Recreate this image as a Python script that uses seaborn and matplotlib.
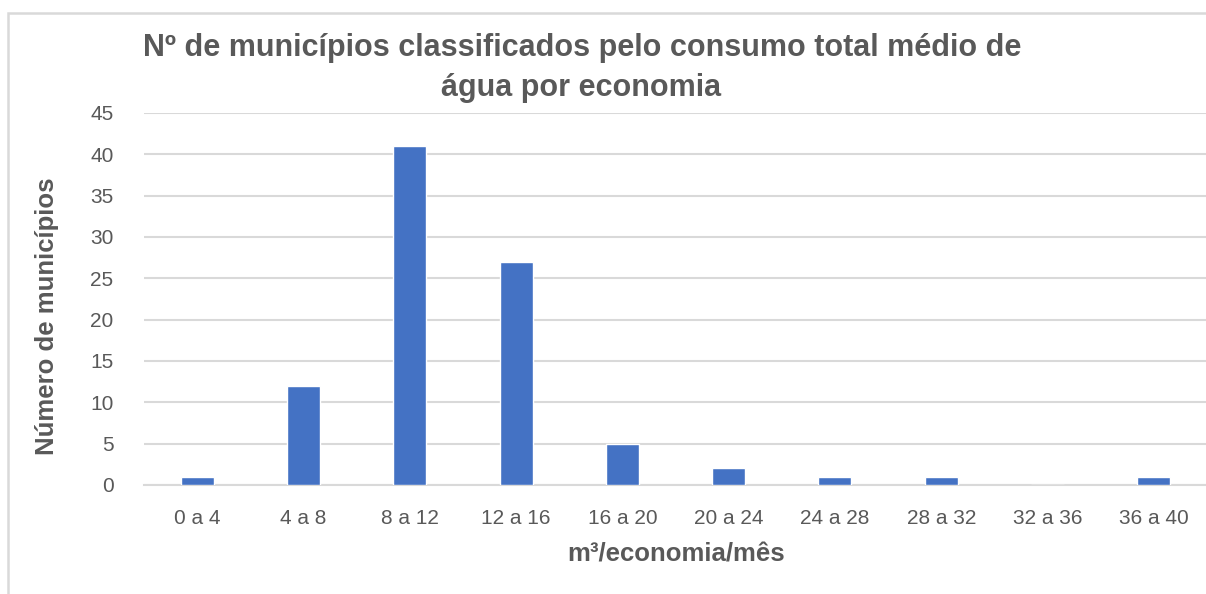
import matplotlib
matplotlib.use("Agg")
import matplotlib.pyplot as plt
from matplotlib.patches import Rectangle
import pandas as pd
import seaborn as sns

# Faixas de consumo e número de municípios
faixas = ["0 a 4", "4 a 8", "8 a 12", "12 a 16", "16 a 20",
          "20 a 24", "24 a 28", "28 a 32", "32 a 36", "36 a 40"]
municipios = [1, 12, 41, 27, 5, 2, 1, 1, 0, 1]
y_ticks = [0, 5, 10, 15, 20, 25, 30, 35, 40, 45]

BAR_COLOR = "#4472C4"
TEXT_COLOR = "#595959"
GRID_COLOR = "#D9D9D9"

sns.set_style("white")
plt.rcParams["font.family"] = ["Liberation Sans", "DejaVu Sans"]

df = pd.DataFrame({"faixa": faixas, "n": municipios})

fig = plt.figure(figsize=(12.06, 5.94), dpi=100)
ax = fig.add_axes([144 / 1206, 109 / 594, 1063 / 1206, 372 / 594])

sns.barplot(data=df, x="faixa", y="n", color=BAR_COLOR, saturation=1,
            width=0.31, ax=ax, zorder=3)

ax.set_ylim(0, 45)
ax.set_yticks(y_ticks)
ax.set_xlim(-0.5, len(faixas) - 0.5)
ax.yaxis.grid(True, color=GRID_COLOR, linewidth=1.5, zorder=0)
ax.set_axisbelow(True)
for side in ["top", "right", "left"]:
    ax.spines[side].set_visible(False)
ax.spines["bottom"].set_color(GRID_COLOR)
ax.spines["bottom"].set_linewidth(1.5)
ax.tick_params(axis="both", length=0, labelsize=15, colors=TEXT_COLOR)
ax.tick_params(axis="x", pad=17)
ax.tick_params(axis="y", pad=22)
ax.set_xlabel("")
ax.set_ylabel("")

# títulos e rótulos
fig.text(582 / 1206, 1 - 48 / 594,
         "Nº de municípios classificados pelo consumo total médio de",
         ha="center", va="center", fontsize=22, fontweight="bold",
         color=TEXT_COLOR)
fig.text(581 / 1206, 1 - 88 / 594, "água por economia",
         ha="center", va="center", fontsize=22, fontweight="bold",
         color=TEXT_COLOR)
fig.text(47 / 1206, 1 - 316 / 594, "Número de municípios",
         ha="center", va="center", rotation=90, fontsize=18.5,
         fontweight="bold", color=TEXT_COLOR)
fig.text(676 / 1206, 1 - 555 / 594, "m³/economia/mês",
         ha="center", va="center", fontsize=18.5, fontweight="bold",
         color=TEXT_COLOR)

# moldura do gráfico
fig.patches.append(Rectangle((8 / 1206, -0.1), 1.2, 1.1 - 13 / 594,
                             transform=fig.transFigure, fill=False,
                             edgecolor=GRID_COLOR, linewidth=1.8))

fig.savefig("out.png", dpi=100)
